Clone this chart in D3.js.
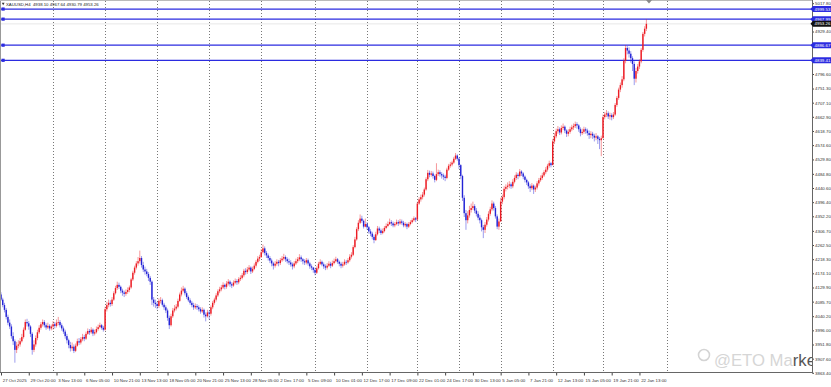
<!DOCTYPE html>
<html><head><meta charset="utf-8">
<script src="https://cdn.jsdelivr.net/npm/d3@7"></script>
<style>html,body{margin:0;padding:0;background:#fff;overflow:hidden}svg{display:block;font-family:"Liberation Sans",Arial,sans-serif}</style>
</head><body><svg id="c" width="831" height="387"></svg>
<script>
// ---- DATA (XAUUSD H4) ----
const firstOpen = 4108;
const closes = [
4092,4075,4060,4038,4020,4008,3978,3962,3935,3948,3952,3962,3975,3998,4022,4018,4008,3985,3935,3952,3972,3990,4004,4015,4022,4012,4005,4010,4002,4008,
4015,4010,4020,4022,4012,4002,3992,3978,3965,3950,3940,3945,3932,3948,3962,3958,3968,3975,3970,3985,3994,3990,3998,3986,3990,4000,4006,4012,4004,3998,
4062,4075,4082,4078,4092,4112,4128,4138,4132,4120,4114,4110,4116,4122,4130,4155,4176,4192,4205,4212,4222,4200,4186,4180,4172,4160,4148,4092,4082,4078,
4072,4088,4090,4076,4068,4058,4035,4012,4040,4058,4064,4070,4088,4108,4120,4126,4112,4100,4090,4082,4075,4068,4072,4068,4062,4055,4060,4045,4040,4052,
4048,4068,4082,4092,4105,4118,4124,4130,4138,4132,4142,4148,4140,4136,4145,4150,4146,4156,4160,4168,4182,4178,4186,4192,4180,4188,4198,4210,4220,4225,
4240,4252,4238,4230,4222,4214,4205,4198,4204,4210,4206,4215,4220,4225,4218,4212,4208,4202,4196,4205,4212,4218,4224,4218,4212,4208,4215,4205,4196,4192,
4185,4176,4190,4204,4210,4202,4196,4192,4198,4204,4198,4206,4212,4218,4210,4204,4198,4202,4210,4208,4215,4226,4232,4256,4280,4312,4332,4345,4338,4320,
4328,4318,4305,4298,4288,4278,4296,4314,4308,4300,4306,4316,4322,4328,4334,4330,4324,4328,4334,4330,4336,4332,4324,4328,4320,4328,4334,4340,4346,4342,
4392,4405,4412,4420,4436,4468,4488,4482,4486,4478,4466,4484,4490,4484,4480,4476,4472,4498,4510,4514,4520,4532,4542,4532,
4512,4478,4410,4362,4340,4355,4372,4378,4384,4370,4360,4348,4340,4318,4310,4326,4342,4360,4374,4392,4378,4352,4320,4336,
4398,4412,4438,4444,4448,4452,4446,4460,4472,4482,4478,4492,4486,4476,4466,4458,4446,4440,4448,4436,4442,4455,4465,4472,4480,4490,4498,4510,4518,4512,
4586,4602,4618,4624,4614,4628,4632,4620,4610,4616,4624,4630,4634,4640,4636,4624,4612,4616,4624,4620,4612,4606,4610,4604,4598,4602,4594,4590,4596,
4662,4670,4674,4664,4668,4662,4670,4700,4722,4748,4762,4780,4838,4878,4870,4860,4846,4828,4782,4806,4820,4836,4872,4922,4938.10,4953.26
];
const highs = [
4115,4098,4082,4066,4045,4030,4015,3990,3968,3960,3965,3972,3985,4005,4030,4032,4025,4012,3990,3965,3980,3998,4012,4022,4030,4028,4018,4020,4015,4014,
4025,4022,4030,4038,4028,4018,4008,3998,3985,3970,3960,3958,3952,3955,3970,3972,3975,3985,3982,3992,4002,4000,4006,4002,3998,4008,4014,4020,4016,4010,
4070,4085,4092,4090,4100,4118,4135,4148,4145,4136,4126,4120,4124,4130,4136,4160,4182,4198,4212,4225,4245,4228,4210,4195,4188,4178,4166,4152,4100,4092,
4085,4096,4100,4095,4082,4074,4064,4042,4048,4066,4075,4078,4095,4114,4130,4135,4130,4118,4105,4096,4088,4082,4080,4078,4074,4068,4068,4064,4052,4060,
4058,4074,4088,4098,4112,4124,4132,4138,4146,4142,4150,4156,4152,4146,4152,4158,4156,4162,4168,4175,4188,4190,4194,4200,4196,4195,4205,4216,4228,4232,
4250,4264,4258,4244,4236,4228,4220,4210,4212,4218,4216,4222,4228,4235,4230,4224,4220,4215,4208,4212,4220,4225,4234,4230,4222,4218,4222,4220,4210,4202,
4194,4192,4196,4210,4218,4214,4208,4202,4206,4212,4210,4214,4220,4226,4222,4214,4210,4210,4218,4216,4222,4234,4240,4262,4288,4318,4340,4358,4354,4342,
4345,4334,4322,4312,4304,4295,4304,4322,4320,4314,4314,4322,4330,4336,4345,4340,4336,4334,4342,4340,4344,4342,4338,4334,4332,4334,4340,4346,4352,4350,
4398,4412,4420,4428,4442,4474,4497,4495,4494,4492,4482,4518,4498,4496,4490,4486,4482,4504,4516,4522,4526,4538,4550,4546,
4536,4515,4482,4418,4372,4368,4385,4392,4398,4390,4378,4368,4356,4345,4325,4334,4350,4368,4382,4402,4398,4384,4358,4345,
4410,4420,4446,4452,4458,4462,4458,4468,4480,4490,4488,4500,4496,4490,4480,4470,4462,4452,4456,4452,4448,4462,4472,4480,4488,4496,4506,4516,4526,4522,
4594,4612,4626,4634,4630,4636,4642,4636,4624,4624,4632,4638,4642,4648,4646,4640,4630,4626,4632,4630,4626,4620,4618,4616,4610,4612,4606,4600,4604,
4670,4678,4684,4680,4676,4674,4678,4706,4728,4754,4770,4790,4846,4887,4884,4880,4868,4852,4836,4816,4828,4842,4878,4928,4946,4967.64
];
const lows = [
4088,4068,4052,4030,4012,4000,3970,3950,3895,3925,3940,3945,3958,3970,3995,4008,3998,3975,3920,3928,3945,3965,3985,3998,4008,4005,3998,4000,3995,3996,
3998,4002,4005,4012,4005,3995,3985,3970,3955,3940,3930,3932,3925,3928,3945,3950,3952,3962,3962,3966,3982,3982,3985,3978,3980,3986,3995,4002,3998,3992,
3995,4055,4068,4070,4072,4088,4108,4122,4125,4112,4104,4100,4104,4110,4115,4126,4150,4170,4186,4198,4205,4192,4178,4170,4165,4150,4138,4075,4070,4066,
4062,4066,4080,4070,4060,4050,4026,4000,4008,4035,4052,4058,4065,4085,4102,4115,4105,4094,4085,4076,4068,4060,4062,4060,4055,4048,4050,4036,4024,4036,
4030,4042,4062,4076,4086,4100,4112,4118,4125,4124,4126,4136,4132,4128,4132,4140,4138,4140,4150,4155,4162,4170,4172,4180,4172,4175,4184,4192,4205,4212,
4222,4236,4230,4222,4214,4206,4196,4186,4192,4198,4196,4200,4210,4214,4210,4205,4200,4195,4186,4190,4200,4206,4212,4210,4202,4200,4202,4198,4188,4184,
4176,4168,4172,4186,4200,4196,4188,4184,4186,4194,4190,4194,4202,4208,4204,4196,4190,4192,4198,4200,4204,4210,4220,4228,4252,4276,4306,4328,4332,4314,
4318,4310,4298,4290,4280,4268,4275,4292,4300,4294,4296,4302,4312,4318,4325,4322,4318,4318,4324,4322,4326,4326,4318,4318,4312,4316,4324,4330,4336,4334,
4340,4388,4398,4405,4414,4432,4462,4474,4476,4470,4458,4462,4478,4476,4470,4466,4462,4468,4494,4504,4508,4516,4528,4526,
4500,4468,4400,4350,4310,4330,4348,4364,4372,4362,4352,4340,4330,4305,4284,4300,4320,4336,4354,4368,4370,4345,4312,4310,
4345,4390,4405,4430,4436,4440,4438,4440,4455,4466,4468,4474,4478,4468,4458,4450,4438,4428,4434,4422,4428,4436,4448,4460,4466,4475,4484,4492,4504,4505,
4520,4578,4596,4610,4606,4608,4622,4612,4600,4602,4610,4618,4622,4628,4626,4616,4602,4606,4610,4610,4604,4594,4596,4594,4586,4590,4578,4562,4540,
4600,4655,4662,4656,4654,4652,4656,4666,4694,4716,4740,4754,4774,4830,4858,4848,4832,4806,4762,4770,4798,4812,4830,4866,4914,4930.79
];
const gridBars = [30,60,90,120,150,181,211,240,264,288,318,347,384];
const timeLabels = ["27 Oct 2025","29 Oct 20:00","3 Nov 13:00","6 Nov 05:00","10 Nov 21:00","13 Nov 13:00","18 Nov 05:00","20 Nov 21:00","25 Nov 13:00","28 Nov 05:00","2 Dec 17:00","5 Dec 09:00","10 Dec 01:00","12 Dec 17:00","17 Dec 09:00","22 Dec 01:00","24 Dec 17:00","30 Dec 13:00","5 Jan 05:00","7 Jan 21:00","12 Jan 13:00","15 Jan 05:00","19 Jan 21:00","22 Jan 13:00"];
const timeLabelBars = [0,16,32,48,64,80,96,112,128,144,160,176,192,208,224,240,256,272,288,304,320,336,352,368];
const priceTicks = [5017.80,4929.40,4796.60,4751.30,4707.10,4662.90,4618.70,4574.60,4529.80,4484.80,4440.60,4396.40,4352.20,4306.70,4262.50,4218.30,4174.10,4129.90,4085.70,4040.20,3996.00,3951.80,3907.60,3863.40];
const levelLines = [4999.53,4967.99,4886.67,4839.41];
const bidPrice = 4953.26;
const headerText = "XAUUSD,H4  4938.10 4967.64 4930.79 4953.26";
const watermark = ["@ETO Ma","rke"];   // visible part of the watermark (cut by the price scale)

// ---- CHART ----
const svg = d3.select('#c');
const axisX = 812.5, axisY = 372.5;
const x = d3.scaleLinear().domain([0,467]).range([1,811.2]);
const y = d3.scaleLinear().domain([3863.4,5017.8]).range([372.8,3.2]);
const UP = "#ec1c24", DOWN = "#2323d6", LVL = "#2b2be0";

svg.append('rect').attr('width',831).attr('height',387).attr('fill','#fff');
svg.append('defs').append('clipPath').attr('id','plot').append('rect').attr('x',0).attr('y',0).attr('width',axisX).attr('height',axisY);

// watermark
const wm = svg.append('g').attr('clip-path','url(#plot)');
wm.append('circle').attr('cx',704).attr('cy',355).attr('r',5.5).attr('fill','none').attr('stroke','#d4d4d4').attr('stroke-width',1.6);
const wt = wm.append('text').attr('x',714).attr('y',366).attr('font-size',16.7).attr('fill','#d6d6d6');
wt.selectAll('tspan').data(watermark).join('tspan').text(d=>d).attr('fill',(d,i)=>i===1?'#555':'#d6d6d6');

// grid
svg.append('g').selectAll('line').data(gridBars).join('line')
  .attr('x1',d=>Math.round(x(d))+0.5).attr('x2',d=>Math.round(x(d))+0.5)
  .attr('y1',1).attr('y2',axisY)
  .attr('stroke','#777').attr('stroke-width',1).attr('stroke-dasharray','1,2');

// bid line
svg.append('line').attr('x1',0).attr('x2',axisX).attr('y1',y(bidPrice)).attr('y2',y(bidPrice))
  .attr('stroke','#d8d8d8').attr('stroke-width',0.6);

// level lines
const lv = svg.append('g');
lv.selectAll('line').data(levelLines).join('line')
  .attr('x1',0).attr('x2',axisX).attr('y1',d=>y(d)).attr('y2',d=>y(d))
  .attr('stroke',LVL).attr('stroke-width',1.2);
lv.selectAll('rect').data(levelLines).join('rect')
  .attr('x',1.5).attr('y',d=>y(d)-1.6).attr('width',3.2).attr('height',3.2).attr('fill',LVL);

// candles
const candles = closes.map((c,i)=>{const o=i?closes[i-1]:firstOpen;return {i,o,c,h:Math.max(highs[i],o,c),l:Math.min(lows[i],o,c)};});
const cg = svg.append('g');
cg.selectAll('line').data(candles).join('line')
  .attr('x1',d=>x(d.i)).attr('x2',d=>x(d.i)).attr('y1',d=>y(d.h)).attr('y2',d=>y(d.l))
  .attr('stroke',d=>d.c>=d.o?UP:DOWN).attr('stroke-opacity',0.45).attr('stroke-width',1);
cg.selectAll('rect').data(candles).join('rect')
  .attr('x',d=>x(d.i)-0.7).attr('width',1.4)
  .attr('y',d=>y(Math.max(d.o,d.c))).attr('height',d=>Math.max(0.8,Math.abs(y(d.o)-y(d.c))))
  .attr('fill',d=>d.c>=d.o?UP:DOWN);

// frame
svg.append('line').attr('x1',0.5).attr('x2',0.5).attr('y1',0).attr('y2',axisY).attr('stroke','#999');
svg.append('line').attr('x1',0).attr('x2',axisX).attr('y1',0.5).attr('y2',0.5).attr('stroke','#bbb');

// price axis
const ya = svg.append('g').attr('transform',`translate(${axisX},0)`)
  .call(d3.axisRight(y).tickValues(priceTicks).tickFormat(d3.format('.2f')).tickSize(1.5).tickPadding(1));
ya.select('.domain').remove();
ya.selectAll('line').attr('stroke','#444');
ya.selectAll('text').attr('font-size',4.4).attr('fill','#333').attr('font-family','"Liberation Sans",Arial,sans-serif');
svg.append('line').attr('x1',axisX).attr('x2',axisX).attr('y1',0).attr('y2',axisY+1).attr('stroke','#666');

// time axis
const xa = svg.append('g').attr('transform',`translate(0,${axisY})`)
  .call(d3.axisBottom(x).tickValues(timeLabelBars).tickFormat((d,i)=>timeLabels[i]).tickSize(3).tickPadding(3));
xa.select('.domain').remove();
xa.selectAll('line').attr('stroke','#444');
xa.selectAll('text').attr('font-size',4.4).attr('fill','#333').attr('text-anchor','start').attr('dx',1.2)
  .attr('font-family','"Liberation Sans",Arial,sans-serif');
svg.append('line').attr('x1',0).attr('x2',axisX).attr('y1',axisY).attr('y2',axisY).attr('stroke','#666');

// level labels on axis
function tag(g, v, fill){
  const yy=y(v);
  g.append('path').attr('d',`M${axisX-2},${yy} L${axisX+0.5},${yy-3} L831,${yy-3} L831,${yy+3} L${axisX+0.5},${yy+3} Z`).attr('fill',fill);
  g.append('text').attr('x',axisX+2).attr('y',yy).attr('dy','0.35em').attr('font-size',4.4).attr('fill','#fff').text(d3.format('.2f')(v));
}
const tg = svg.append('g');
levelLines.forEach(v=>tag(tg,v,LVL));
tag(tg,bidPrice,'#111');

// shift marker
svg.append('path').attr('d','M646,0 L652,0 L649,3.5 Z').attr('fill','#888');

// header
svg.append('path').attr('d','M1.8,2.8 L4.6,2.8 L3.2,5.2 Z').attr('fill','#333');
svg.append('text').attr('x',6).attr('y',5.6).attr('font-size',4.3).attr('fill','#222').attr('xml:space','preserve').style('white-space','pre').text(headerText);
</script>
</body></html>
